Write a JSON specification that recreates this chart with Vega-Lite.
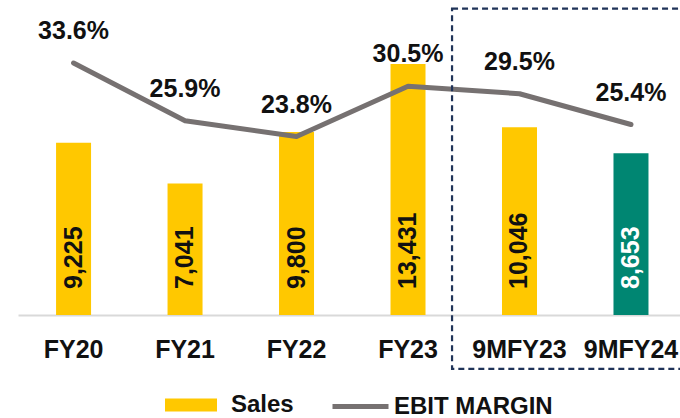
{
  "$schema": "https://vega.github.io/schema/vega-lite/v6.json",
  "width": 662,
  "height": 315,
  "autosize": {"type": "none"},
  "padding": {"left": 18, "top": 0, "right": 0, "bottom": 103},
  "data": {"values": [
    {"year": "FY20", "Sales": 9225, "EBIT MARGIN": 0.336},
    {"year": "FY21", "Sales": 7041, "EBIT MARGIN": 0.259},
    {"year": "FY22", "Sales": 9800, "EBIT MARGIN": 0.238},
    {"year": "FY23", "Sales": 13431, "EBIT MARGIN": 0.305},
    {"year": "9MFY23", "Sales": 10046, "EBIT MARGIN": 0.295},
    {"year": "9MFY24", "Sales": 8653, "EBIT MARGIN": 0.254}
  ]},
  "layer": [
    {
      "encoding": {
        "x": {
          "field": "year", "type": "nominal", "sort": null,
          "scale": {"domain": ["FY20", "FY21", "FY22", "FY23", "9MFY23", "9MFY24"], "paddingInner": 0.686, "paddingOuter": 0.312, "align": 0.547},
          "axis": {"title": null, "labelAngle": 0, "labelFontSize": 25, "labelFont": "Liberation Sans", "labelFontWeight": "bold", "labelColor": "#111111", "labelPadding": 22, "ticks": false, "domainColor": "#D9D9D9", "domainWidth": 2}
        }
      },
      "layer": [
        {
          "transform": [{"fold": ["Sales"], "as": ["series", "value"]}],
          "encoding": {"y": {"field": "value", "type": "quantitative", "scale": {"domain": [0, 16863]}, "axis": null}},
          "layer": [
            {
              "mark": {"type": "bar", "width": 35},
              "encoding": {
                "fill": {
                  "condition": {"test": "datum.year === '9MFY24'", "value": "#008672"},
                  "field": "series", "type": "nominal",
                  "scale": {"range": ["#FFC800"]},
                  "legend": {"title": null, "orient": "none", "legendX": 147, "legendY": 379, "labelFontSize": 24, "labelFont": "Liberation Sans", "labelFontWeight": "bold", "labelColor": "#111111", "symbolType": "M-1,-0.25H1V0.25H-1Z", "symbolSize": 2704, "symbolStrokeWidth": 0, "labelOffset": 14}
                }
              }
            },
            {
              "mark": {"type": "text", "angle": 270, "align": "left", "baseline": "middle", "dx": 26, "fontSize": 25, "fontWeight": "bold", "font": "Liberation Sans"},
              "encoding": {
                "y": {"datum": 0, "type": "quantitative"},
                "text": {"field": "value", "type": "quantitative", "format": ","},
                "color": {"condition": {"test": "datum.year === '9MFY24'", "value": "#FFFFFF"}, "value": "#111111"}
              }
            }
          ]
        },
        {
          "transform": [{"fold": ["EBIT MARGIN"], "as": ["metric", "pct"]}],
          "encoding": {"y": {"field": "pct", "type": "quantitative", "scale": {"domain": [0, 0.42]}, "axis": null}},
          "layer": [
            {
              "mark": {"type": "line", "strokeWidth": 5, "strokeCap": "round", "strokeJoin": "round"},
              "encoding": {
                "stroke": {
                  "field": "metric", "type": "nominal",
                  "scale": {"range": ["#767171"]},
                  "legend": {"title": null, "orient": "none", "legendX": 312, "legendY": 376, "labelFontSize": 24, "labelFont": "Liberation Sans", "labelFontWeight": "bold", "labelColor": "#111111", "symbolType": "stroke", "symbolSize": 3136, "symbolStrokeWidth": 5, "labelOffset": 3}
                }
              }
            },
            {
              "mark": {"type": "text", "baseline": "alphabetic", "dy": -24, "fontSize": 25, "fontWeight": "bold", "font": "Liberation Sans", "color": "#111111"},
              "encoding": {"text": {"field": "pct", "type": "quantitative", "format": ".1%"}}
            }
          ]
        }
      ],
      "resolve": {"scale": {"y": "independent"}}
    },
    {
      "data": {"values": [{"from": "9MFY23", "to": "9MFY24"}]},
      "mark": {"type": "rect", "filled": false, "stroke": "#1F3358", "strokeWidth": 2.2, "strokeDash": [6, 4]},
      "encoding": {
        "x": {"datum": 3.934, "type": "quantitative", "scale": {"domain": [0, 6]}, "axis": null},
        "x2": {"datum": 6.3},
        "y": {"datum": 0.9724, "type": "quantitative", "scale": {"domain": [0, 1]}, "axis": null},
        "y2": {"datum": -0.171}
      }
    }
  ],
  "resolve": {"scale": {"x": "independent", "y": "independent"}},
  "config": {
    "view": {"stroke": null}
  }
}
